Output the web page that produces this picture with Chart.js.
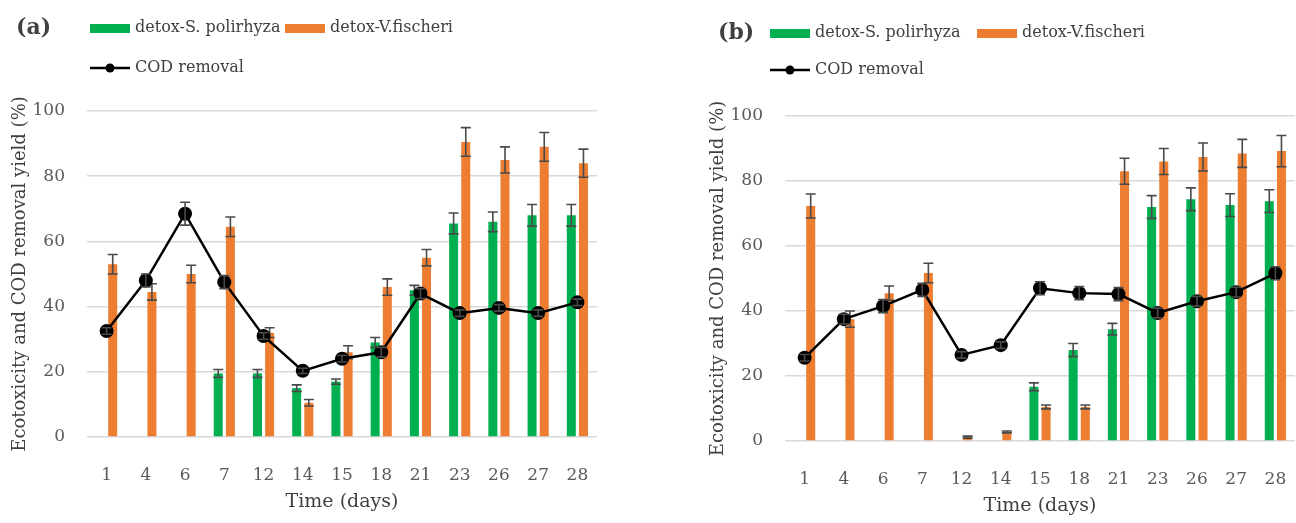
<!DOCTYPE html>
<html>
<head>
<meta charset="utf-8">
<script src="https://cdn.jsdelivr.net/npm/chart.js@4.4.0/dist/chart.umd.min.js"></script>
<style>
  body { margin: 0; background: #fff; width: 1296px; height: 523px; position: relative; overflow: hidden; }
  canvas { position: absolute; }
  #chartA { left: 0; top: 0; }
  #chartB { left: 698px; top: 4px; }
</style>
</head>
<body>
<canvas id="chartA" width="604" height="523"></canvas>
<canvas id="chartB" width="604" height="523"></canvas>
<script>
const days = ['1', '4', '6', '7', '12', '14', '15', '18', '21', '23', '26', '27', '28'];

// panel (a)
const aSpol = [null, null, null, 19.5, 19.5, 15, 17, 29, 45, 65.5, 66, 68, 68];
const aSpolErr = [0, 0, 0, 1.2, 1.2, 1, 0.8, 1.5, 1.5, 3.2, 3, 3.3, 3.3];
const aVfis = [53, 44.5, 50, 64.5, 32, 10.5, 26, 46, 55, 90.5, 85, 89, 84];
const aVfisErr = [3, 2.5, 2.7, 3, 1.5, 1, 2, 2.5, 2.5, 4.4, 4, 4.4, 4.3];
const aCod = [32.5, 48, 68.5, 47.5, 31, 20.3, 24, 26, 44, 38, 39.6, 38, 41.3];
const aCodErr = [1, 2, 3.5, 2, 1, 0.8, 1, 1.5, 1.5, 1, 1, 1, 1];

// panel (b)
const bSpol = [null, null, null, null, null, null, 16.7, 28, 34.4, 72, 74.4, 72.6, 73.8];
const bSpolErr = [0, 0, 0, 0, 0, 0, 1.2, 2, 1.8, 3.5, 3.5, 3.5, 3.5];
const bVfis = [72.3, 37.5, 45.5, 51.7, 1.2, 2.8, 10.5, 10.5, 83, 86, 87.4, 88.5, 89.2];
const bVfisErr = [3.7, 2.5, 2.2, 3, 0.3, 0.3, 0.6, 0.6, 4, 4, 4.3, 4.3, 4.8];
const bCod = [25.6, 37.5, 41.5, 46.5, 26.5, 29.5, 47, 45.5, 45.2, 39.4, 43, 45.8, 51.6];
const bCodErr = [1, 1.5, 2, 2, 1, 1, 2, 2, 2, 1.5, 1.5, 1.5, 2];

const yTicks = [0, 20, 40, 60, 80, 100];

const GREEN = '#00b050';
const ORANGE = '#ed7d31';
const FONT = 'DejaVu Serif';

// error bars drawn right after each dataset, so the line stays on top
const errorBars = {
    id: 'errorBars',
    afterDatasetDraw(chart, args) {
        const ds = chart.data.datasets[args.index];
        if (!ds.errors) return;
        const y = chart.scales.y;
        const ctx = chart.ctx;
        ctx.save();
        ctx.strokeStyle = '#4a4a4a';
        ctx.lineWidth = 1.6;
        args.meta.data.forEach((el, i) => {
            const v = ds.data[i];
            const e = ds.errors[i];
            if (v === null || !e) return;
            const yt = y.getPixelForValue(v + e);
            const yb = y.getPixelForValue(v - e);
            const x = el.x;
            ctx.beginPath();
            ctx.moveTo(x, yt); ctx.lineTo(x, yb);
            ctx.moveTo(x - 5, yt); ctx.lineTo(x + 5, yt);
            ctx.moveTo(x - 5, yb); ctx.lineTo(x + 5, yb);
            ctx.stroke();
        });
        ctx.restore();
    }
};

const customLegend = {
    id: 'customLegend',
    afterDraw(chart, args, opts) {
        const ctx = chart.ctx;
        ctx.save();
        ctx.textBaseline = 'middle';
        ctx.fillStyle = '#404040';
        ctx.font = 'bold 22px ' + FONT;
        ctx.fillText(opts.panel, opts.panelX, opts.row1);

        ctx.font = '16px ' + FONT;
        ctx.fillStyle = GREEN;
        ctx.fillRect(opts.x1, opts.row1 - 4, 40, 9);
        ctx.fillStyle = '#404040';
        ctx.fillText(chart.data.datasets[1].label, opts.x1 + 45, opts.row1);

        ctx.fillStyle = ORANGE;
        ctx.fillRect(opts.x2, opts.row1 - 4, 40, 9);
        ctx.fillStyle = '#404040';
        ctx.fillText(chart.data.datasets[2].label, opts.x2 + 45, opts.row1);

        ctx.strokeStyle = '#000';
        ctx.lineWidth = 2.5;
        ctx.beginPath();
        ctx.moveTo(opts.x1, opts.row2); ctx.lineTo(opts.x1 + 40, opts.row2);
        ctx.stroke();
        ctx.beginPath();
        ctx.arc(opts.x1 + 20, opts.row2, 4.5, 0, Math.PI * 2);
        ctx.fillStyle = '#000';
        ctx.fill();
        ctx.fillStyle = '#404040';
        ctx.fillText(chart.data.datasets[0].label, opts.x1 + 45, opts.row2);
        ctx.restore();
    }
};

function makeChart(id, spol, spolErr, vfis, vfisErr, cod, codErr, legendOpts, top) {
    const ctx = document.getElementById(id).getContext('2d');
    return new Chart(ctx, {
        type: 'bar',
        data: {
            labels: days,
            datasets: [
                {
                    type: 'line',
                    label: 'COD removal',
                    data: cod,
                    errors: codErr,
                    borderColor: '#000',
                    backgroundColor: '#000',
                    borderWidth: 2.5,
                    pointRadius: 7,
                    pointBackgroundColor: '#000',
                    pointBorderWidth: 0,
                    tension: 0,
                    order: 0
                },
                {
                    label: 'detox-S. polirhyza',
                    data: spol,
                    errors: spolErr,
                    backgroundColor: GREEN,
                    categoryPercentage: 0.62,
                    barPercentage: 0.74,
                    order: 1
                },
                {
                    label: 'detox-V.fischeri',
                    data: vfis,
                    errors: vfisErr,
                    backgroundColor: ORANGE,
                    categoryPercentage: 0.62,
                    barPercentage: 0.74,
                    order: 1
                }
            ]
        },
        options: {
            responsive: false,
            animation: false,
            devicePixelRatio: 1,
            layout: { padding: { top: top, left: 0, right: 1, bottom: 0 } },
            plugins: {
                legend: { display: false },
                tooltip: { enabled: false },
                customLegend: legendOpts
            },
            scales: {
                x: {
                    grid: { display: false },
                    border: { display: false },
                    ticks: { color: '#595959', font: { family: FONT, size: 17 }, padding: 20, maxRotation: 0 },
                    title: { display: true, text: 'Time (days)', color: '#404040', font: { family: FONT, size: 19 }, padding: { top: 0, bottom: 10 } },
                    afterFit: (scale) => {
                        scale.height = 86;
                        scale.paddingLeft = 0;
                        scale.paddingRight = 0;
                    }
                },
                y: {
                    min: 0,
                    max: 100,
                    afterBuildTicks: (scale) => { scale.ticks = yTicks.map(v => ({ value: v })); },
                    grid: { color: '#d9d9d9', lineWidth: 1.5, drawTicks: false },
                    border: { display: false },
                    ticks: { color: '#595959', font: { family: FONT, size: 17 }, padding: 22 },
                    title: { display: true, text: 'Ecotoxicity and COD removal yield (%)', color: '#404040', font: { family: FONT, size: 18 }, padding: { top: 10, bottom: 0 } },
                    afterFit: (scale) => {
                        scale.width = 87;
                        scale.paddingTop = 0;
                        scale.paddingBottom = 0;
                    }
                }
            }
        },
        plugins: [errorBars, customLegend]
    });
}

makeChart('chartA', aSpol, aSpolErr, aVfis, aVfisErr, aCod, aCodErr,
    { panel: '(a)', panelX: 16, x1: 90, x2: 285, row1: 28, row2: 68 }, 111);
makeChart('chartB', bSpol, bSpolErr, bVfis, bVfisErr, bCod, bCodErr,
    { panel: '(b)', panelX: 20, x1: 72, x2: 279, row1: 29, row2: 66 }, 112);
</script>
</body>
</html>
